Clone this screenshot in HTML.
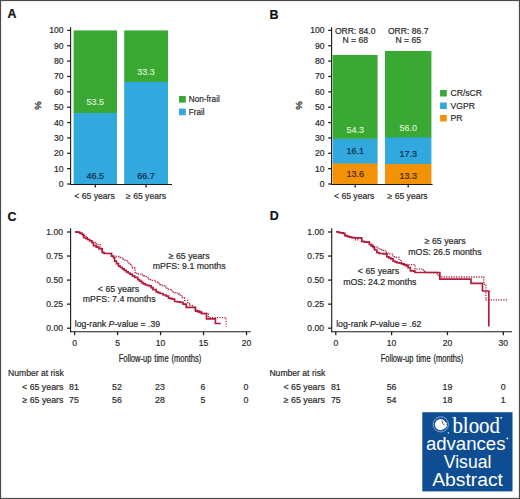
<!DOCTYPE html>
<html><head><meta charset="utf-8"><style>
html,body{margin:0;padding:0;background:#fff;width:520px;height:499px;overflow:hidden}
svg{display:block;font-family:"Liberation Sans", sans-serif}
</style></head><body>
<svg width="520" height="499" viewBox="0 0 520 499">
<rect x="0.55" y="0.55" width="518.9" height="497.9" fill="none" stroke="#4a4a4a" stroke-width="1.1"/>
<text x="7.6" y="18.4" font-size="12.4" text-anchor="start" fill="#111" font-weight="bold" stroke="#111" stroke-width="0.2" >A</text>
<text x="269.6" y="18.6" font-size="12.4" text-anchor="start" fill="#111" font-weight="bold" stroke="#111" stroke-width="0.2" >B</text>
<text x="7.6" y="220.8" font-size="12.4" text-anchor="start" fill="#111" font-weight="bold" stroke="#111" stroke-width="0.2" >C</text>
<text x="269.8" y="220.4" font-size="12.4" text-anchor="start" fill="#111" font-weight="bold" stroke="#111" stroke-width="0.2" >D</text>
<line x1="70.6" y1="27.3" x2="70.6" y2="184.5" stroke="#1a1a1a" stroke-width="1.1" />
<line x1="67.19999999999999" y1="184.0" x2="70.6" y2="184.0" stroke="#1a1a1a" stroke-width="1.25" />
<text x="63.599999999999994" y="187.0" font-size="8.6" text-anchor="end" fill="#2b2b2b" font-weight="normal" stroke="#2b2b2b" stroke-width="0.2" >0</text>
<line x1="67.19999999999999" y1="168.64" x2="70.6" y2="168.64" stroke="#1a1a1a" stroke-width="1.25" />
<text x="63.599999999999994" y="171.64" font-size="8.6" text-anchor="end" fill="#2b2b2b" font-weight="normal" stroke="#2b2b2b" stroke-width="0.2" >10</text>
<line x1="67.19999999999999" y1="153.28" x2="70.6" y2="153.28" stroke="#1a1a1a" stroke-width="1.25" />
<text x="63.599999999999994" y="156.28" font-size="8.6" text-anchor="end" fill="#2b2b2b" font-weight="normal" stroke="#2b2b2b" stroke-width="0.2" >20</text>
<line x1="67.19999999999999" y1="137.92000000000002" x2="70.6" y2="137.92000000000002" stroke="#1a1a1a" stroke-width="1.25" />
<text x="63.599999999999994" y="140.92000000000002" font-size="8.6" text-anchor="end" fill="#2b2b2b" font-weight="normal" stroke="#2b2b2b" stroke-width="0.2" >30</text>
<line x1="67.19999999999999" y1="122.56" x2="70.6" y2="122.56" stroke="#1a1a1a" stroke-width="1.25" />
<text x="63.599999999999994" y="125.56" font-size="8.6" text-anchor="end" fill="#2b2b2b" font-weight="normal" stroke="#2b2b2b" stroke-width="0.2" >40</text>
<line x1="67.19999999999999" y1="107.2" x2="70.6" y2="107.2" stroke="#1a1a1a" stroke-width="1.25" />
<text x="63.599999999999994" y="110.2" font-size="8.6" text-anchor="end" fill="#2b2b2b" font-weight="normal" stroke="#2b2b2b" stroke-width="0.2" >50</text>
<line x1="67.19999999999999" y1="91.84" x2="70.6" y2="91.84" stroke="#1a1a1a" stroke-width="1.25" />
<text x="63.599999999999994" y="94.84" font-size="8.6" text-anchor="end" fill="#2b2b2b" font-weight="normal" stroke="#2b2b2b" stroke-width="0.2" >60</text>
<line x1="67.19999999999999" y1="76.48" x2="70.6" y2="76.48" stroke="#1a1a1a" stroke-width="1.25" />
<text x="63.599999999999994" y="79.48" font-size="8.6" text-anchor="end" fill="#2b2b2b" font-weight="normal" stroke="#2b2b2b" stroke-width="0.2" >70</text>
<line x1="67.19999999999999" y1="61.120000000000005" x2="70.6" y2="61.120000000000005" stroke="#1a1a1a" stroke-width="1.25" />
<text x="63.599999999999994" y="64.12" font-size="8.6" text-anchor="end" fill="#2b2b2b" font-weight="normal" stroke="#2b2b2b" stroke-width="0.2" >80</text>
<line x1="67.19999999999999" y1="45.75999999999999" x2="70.6" y2="45.75999999999999" stroke="#1a1a1a" stroke-width="1.25" />
<text x="63.599999999999994" y="48.75999999999999" font-size="8.6" text-anchor="end" fill="#2b2b2b" font-weight="normal" stroke="#2b2b2b" stroke-width="0.2" >90</text>
<line x1="67.19999999999999" y1="30.400000000000006" x2="70.6" y2="30.400000000000006" stroke="#1a1a1a" stroke-width="1.25" />
<text x="63.599999999999994" y="33.400000000000006" font-size="8.6" text-anchor="end" fill="#2b2b2b" font-weight="normal" stroke="#2b2b2b" stroke-width="0.2" >100</text>
<line x1="70.1" y1="184.5" x2="172.0" y2="184.5" stroke="#1a1a1a" stroke-width="1.1" />
<line x1="95.3" y1="184.0" x2="95.3" y2="187.4" stroke="#1a1a1a" stroke-width="1.25" />
<line x1="146.1" y1="184.0" x2="146.1" y2="187.4" stroke="#1a1a1a" stroke-width="1.25" />
<text x="38.5" y="105.5" font-size="9.6" text-anchor="middle" fill="#2b2b2b" font-weight="normal" stroke="#2b2b2b" stroke-width="0.3" transform="rotate(-90 38.5 105.5)" dominant-baseline="middle">%</text>
<rect x="73.6" y="112.57600000000001" width="43.400000000000006" height="71.42399999999999" fill="#31a8de"/>
<rect x="73.6" y="30.4" width="43.400000000000006" height="82.57600000000002" fill="#39a934"/>
<rect x="124.2" y="81.54879999999999" width="43.8" height="102.45120000000001" fill="#31a8de"/>
<rect x="124.2" y="30.4" width="43.8" height="51.548799999999986" fill="#39a934"/>
<text x="95.3" y="105.0" font-size="9.0" text-anchor="middle" fill="#dcf3d4" font-weight="normal" stroke="#dcf3d4" stroke-width="0.15" >53.5</text>
<text x="146.1" y="75.2" font-size="9.0" text-anchor="middle" fill="#dcf3d4" font-weight="normal" stroke="#dcf3d4" stroke-width="0.15" >33.3</text>
<text x="95.3" y="178.7" font-size="9.0" text-anchor="middle" fill="#0f2e4e" font-weight="normal" stroke="#0f2e4e" stroke-width="0.2" >46.5</text>
<text x="146.1" y="178.7" font-size="9.0" text-anchor="middle" fill="#0f2e4e" font-weight="normal" stroke="#0f2e4e" stroke-width="0.2" >66.7</text>
<text x="94.5" y="199.2" font-size="8.6" text-anchor="middle" fill="#2b2b2b" font-weight="normal" stroke="#2b2b2b" stroke-width="0.2" >&lt; 65 years</text>
<text x="146.1" y="199.2" font-size="8.6" text-anchor="middle" fill="#2b2b2b" font-weight="normal" stroke="#2b2b2b" stroke-width="0.2" >&#8805; 65 years</text>
<rect x="179" y="96" width="6.8" height="6.6" fill="#39a934"/>
<rect x="179" y="108.6" width="6.8" height="6.6" fill="#31a8de"/>
<text x="188.8" y="102.3" font-size="8.6" text-anchor="start" fill="#2b2b2b" font-weight="normal" stroke="#2b2b2b" stroke-width="0.2" textLength="31.0" lengthAdjust="spacingAndGlyphs">Non-frail</text>
<text x="188.8" y="114.9" font-size="8.6" text-anchor="start" fill="#2b2b2b" font-weight="normal" stroke="#2b2b2b" stroke-width="0.2" textLength="15.7" lengthAdjust="spacingAndGlyphs">Frail</text>
<line x1="331.6" y1="27.3" x2="331.6" y2="184.5" stroke="#1a1a1a" stroke-width="1.1" />
<line x1="328.20000000000005" y1="184.0" x2="331.6" y2="184.0" stroke="#1a1a1a" stroke-width="1.25" />
<text x="324.6" y="187.0" font-size="8.6" text-anchor="end" fill="#2b2b2b" font-weight="normal" stroke="#2b2b2b" stroke-width="0.2" >0</text>
<line x1="328.20000000000005" y1="168.64" x2="331.6" y2="168.64" stroke="#1a1a1a" stroke-width="1.25" />
<text x="324.6" y="171.64" font-size="8.6" text-anchor="end" fill="#2b2b2b" font-weight="normal" stroke="#2b2b2b" stroke-width="0.2" >10</text>
<line x1="328.20000000000005" y1="153.28" x2="331.6" y2="153.28" stroke="#1a1a1a" stroke-width="1.25" />
<text x="324.6" y="156.28" font-size="8.6" text-anchor="end" fill="#2b2b2b" font-weight="normal" stroke="#2b2b2b" stroke-width="0.2" >20</text>
<line x1="328.20000000000005" y1="137.92000000000002" x2="331.6" y2="137.92000000000002" stroke="#1a1a1a" stroke-width="1.25" />
<text x="324.6" y="140.92000000000002" font-size="8.6" text-anchor="end" fill="#2b2b2b" font-weight="normal" stroke="#2b2b2b" stroke-width="0.2" >30</text>
<line x1="328.20000000000005" y1="122.56" x2="331.6" y2="122.56" stroke="#1a1a1a" stroke-width="1.25" />
<text x="324.6" y="125.56" font-size="8.6" text-anchor="end" fill="#2b2b2b" font-weight="normal" stroke="#2b2b2b" stroke-width="0.2" >40</text>
<line x1="328.20000000000005" y1="107.2" x2="331.6" y2="107.2" stroke="#1a1a1a" stroke-width="1.25" />
<text x="324.6" y="110.2" font-size="8.6" text-anchor="end" fill="#2b2b2b" font-weight="normal" stroke="#2b2b2b" stroke-width="0.2" >50</text>
<line x1="328.20000000000005" y1="91.84" x2="331.6" y2="91.84" stroke="#1a1a1a" stroke-width="1.25" />
<text x="324.6" y="94.84" font-size="8.6" text-anchor="end" fill="#2b2b2b" font-weight="normal" stroke="#2b2b2b" stroke-width="0.2" >60</text>
<line x1="328.20000000000005" y1="76.48" x2="331.6" y2="76.48" stroke="#1a1a1a" stroke-width="1.25" />
<text x="324.6" y="79.48" font-size="8.6" text-anchor="end" fill="#2b2b2b" font-weight="normal" stroke="#2b2b2b" stroke-width="0.2" >70</text>
<line x1="328.20000000000005" y1="61.120000000000005" x2="331.6" y2="61.120000000000005" stroke="#1a1a1a" stroke-width="1.25" />
<text x="324.6" y="64.12" font-size="8.6" text-anchor="end" fill="#2b2b2b" font-weight="normal" stroke="#2b2b2b" stroke-width="0.2" >80</text>
<line x1="328.20000000000005" y1="45.75999999999999" x2="331.6" y2="45.75999999999999" stroke="#1a1a1a" stroke-width="1.25" />
<text x="324.6" y="48.75999999999999" font-size="8.6" text-anchor="end" fill="#2b2b2b" font-weight="normal" stroke="#2b2b2b" stroke-width="0.2" >90</text>
<line x1="328.20000000000005" y1="30.400000000000006" x2="331.6" y2="30.400000000000006" stroke="#1a1a1a" stroke-width="1.25" />
<text x="324.6" y="33.400000000000006" font-size="8.6" text-anchor="end" fill="#2b2b2b" font-weight="normal" stroke="#2b2b2b" stroke-width="0.2" >100</text>
<line x1="331.1" y1="184.5" x2="432.6" y2="184.5" stroke="#1a1a1a" stroke-width="1.1" />
<line x1="355.2" y1="184.0" x2="355.2" y2="187.4" stroke="#1a1a1a" stroke-width="1.25" />
<line x1="408.2" y1="184.0" x2="408.2" y2="187.4" stroke="#1a1a1a" stroke-width="1.25" />
<text x="299.4" y="105.4" font-size="9.6" text-anchor="middle" fill="#2b2b2b" font-weight="normal" stroke="#2b2b2b" stroke-width="0.3" transform="rotate(-90 299.4 105.4)" dominant-baseline="middle">%</text>
<rect x="332.6" y="163.1104" width="45.0" height="20.8896" fill="#f39206"/>
<rect x="332.6" y="138.3808" width="45.0" height="25.129600000000003" fill="#31a8de"/>
<rect x="332.6" y="54.976" width="45.0" height="83.8048" fill="#39a934"/>
<rect x="385.0" y="163.5712" width="46.39999999999998" height="20.428799999999995" fill="#f39206"/>
<rect x="385.0" y="136.9984" width="46.39999999999998" height="26.9728" fill="#31a8de"/>
<rect x="385.0" y="50.98240000000001" width="46.39999999999998" height="86.416" fill="#39a934"/>
<text x="355.2" y="132.6" font-size="9.0" text-anchor="middle" fill="#dcf3d4" font-weight="normal" stroke="#dcf3d4" stroke-width="0.15" >54.3</text>
<text x="408.2" y="130.7" font-size="9.0" text-anchor="middle" fill="#dcf3d4" font-weight="normal" stroke="#dcf3d4" stroke-width="0.15" >56.0</text>
<text x="355.2" y="153.7" font-size="9.0" text-anchor="middle" fill="#0f2e4e" font-weight="normal" stroke="#0f2e4e" stroke-width="0.2" >16.1</text>
<text x="408.2" y="157.2" font-size="9.0" text-anchor="middle" fill="#0f2e4e" font-weight="normal" stroke="#0f2e4e" stroke-width="0.2" >17.3</text>
<text x="355.2" y="176.6" font-size="9.0" text-anchor="middle" fill="#45260c" font-weight="normal" stroke="#45260c" stroke-width="0.2" >13.6</text>
<text x="408.2" y="178.9" font-size="9.0" text-anchor="middle" fill="#45260c" font-weight="normal" stroke="#45260c" stroke-width="0.2" >13.3</text>
<text x="355.2" y="33.5" font-size="8.6" text-anchor="middle" fill="#2b2b2b" font-weight="normal" stroke="#2b2b2b" stroke-width="0.2" >ORR: 84.0</text>
<text x="355.2" y="43.4" font-size="8.6" text-anchor="middle" fill="#2b2b2b" font-weight="normal" stroke="#2b2b2b" stroke-width="0.2" >N = 68</text>
<text x="408.2" y="33.5" font-size="8.6" text-anchor="middle" fill="#2b2b2b" font-weight="normal" stroke="#2b2b2b" stroke-width="0.2" >ORR: 86.7</text>
<text x="408.2" y="43.4" font-size="8.6" text-anchor="middle" fill="#2b2b2b" font-weight="normal" stroke="#2b2b2b" stroke-width="0.2" >N = 65</text>
<text x="354.2" y="199.2" font-size="8.6" text-anchor="middle" fill="#2b2b2b" font-weight="normal" stroke="#2b2b2b" stroke-width="0.2" >&lt; 65 years</text>
<text x="407.6" y="199.2" font-size="8.6" text-anchor="middle" fill="#2b2b2b" font-weight="normal" stroke="#2b2b2b" stroke-width="0.2" >&#8805; 65 years</text>
<rect x="440.1" y="90.0" width="6.7" height="6.5" fill="#39a934"/>
<rect x="440.1" y="102.5" width="6.7" height="6.5" fill="#31a8de"/>
<rect x="440.1" y="115.0" width="6.7" height="6.5" fill="#f39206"/>
<text x="450.5" y="96.0" font-size="8.6" text-anchor="start" fill="#2b2b2b" font-weight="normal" stroke="#2b2b2b" stroke-width="0.2" >CR/sCR</text>
<text x="450.5" y="108.6" font-size="8.6" text-anchor="start" fill="#2b2b2b" font-weight="normal" stroke="#2b2b2b" stroke-width="0.2" >VGPR</text>
<text x="450.5" y="121.2" font-size="8.6" text-anchor="start" fill="#2b2b2b" font-weight="normal" stroke="#2b2b2b" stroke-width="0.2" >PR</text>
<line x1="70.6" y1="228.2" x2="70.6" y2="332.3" stroke="#1a1a1a" stroke-width="1.1" />
<line x1="67.0" y1="328.2" x2="70.6" y2="328.2" stroke="#1a1a1a" stroke-width="1.25" />
<text x="62.99999999999999" y="331.2" font-size="8.6" text-anchor="end" fill="#2b2b2b" font-weight="normal" stroke="#2b2b2b" stroke-width="0.2" >0.00</text>
<line x1="67.0" y1="304.15" x2="70.6" y2="304.15" stroke="#1a1a1a" stroke-width="1.25" />
<text x="62.99999999999999" y="307.15" font-size="8.6" text-anchor="end" fill="#2b2b2b" font-weight="normal" stroke="#2b2b2b" stroke-width="0.2" >0.25</text>
<line x1="67.0" y1="280.1" x2="70.6" y2="280.1" stroke="#1a1a1a" stroke-width="1.25" />
<text x="62.99999999999999" y="283.1" font-size="8.6" text-anchor="end" fill="#2b2b2b" font-weight="normal" stroke="#2b2b2b" stroke-width="0.2" >0.50</text>
<line x1="67.0" y1="256.05" x2="70.6" y2="256.05" stroke="#1a1a1a" stroke-width="1.25" />
<text x="62.99999999999999" y="259.05" font-size="8.6" text-anchor="end" fill="#2b2b2b" font-weight="normal" stroke="#2b2b2b" stroke-width="0.2" >0.75</text>
<line x1="67.0" y1="232.0" x2="70.6" y2="232.0" stroke="#1a1a1a" stroke-width="1.25" />
<text x="62.99999999999999" y="235.0" font-size="8.6" text-anchor="end" fill="#2b2b2b" font-weight="normal" stroke="#2b2b2b" stroke-width="0.2" >1.00</text>
<line x1="70.1" y1="331.8" x2="250.6" y2="331.8" stroke="#1a1a1a" stroke-width="1.1" />
<line x1="74.6" y1="331.8" x2="74.6" y2="335.2" stroke="#1a1a1a" stroke-width="1.25" />
<text x="74.6" y="346.4" font-size="8.6" text-anchor="middle" fill="#2b2b2b" font-weight="normal" stroke="#2b2b2b" stroke-width="0.2" >0</text>
<line x1="117.57999999999998" y1="331.8" x2="117.57999999999998" y2="335.2" stroke="#1a1a1a" stroke-width="1.25" />
<text x="117.57999999999998" y="346.4" font-size="8.6" text-anchor="middle" fill="#2b2b2b" font-weight="normal" stroke="#2b2b2b" stroke-width="0.2" >5</text>
<line x1="160.56" y1="331.8" x2="160.56" y2="335.2" stroke="#1a1a1a" stroke-width="1.25" />
<text x="160.56" y="346.4" font-size="8.6" text-anchor="middle" fill="#2b2b2b" font-weight="normal" stroke="#2b2b2b" stroke-width="0.2" >10</text>
<line x1="203.54" y1="331.8" x2="203.54" y2="335.2" stroke="#1a1a1a" stroke-width="1.25" />
<text x="203.54" y="346.4" font-size="8.6" text-anchor="middle" fill="#2b2b2b" font-weight="normal" stroke="#2b2b2b" stroke-width="0.2" >15</text>
<line x1="246.51999999999998" y1="331.8" x2="246.51999999999998" y2="335.2" stroke="#1a1a1a" stroke-width="1.25" />
<text x="246.51999999999998" y="346.4" font-size="8.6" text-anchor="middle" fill="#2b2b2b" font-weight="normal" stroke="#2b2b2b" stroke-width="0.2" >20</text>
<text x="160.0" y="361.6" font-size="10.4" text-anchor="middle" fill="#222" font-weight="normal" stroke="#222" stroke-width="0.22" style="word-spacing:1.2px" transform="translate(160.0 0) scale(0.725 1) translate(-160.0 0)">Follow-up time (months)</text>
<polyline points="75.1,231.8 77.0,231.8 77.0,232.2 78.9,232.2 78.9,232.5 80.1,232.5 80.1,233.3 82.0,233.3 82.0,234.5 83.5,234.5 83.5,237.5 85.5,237.5 85.5,238.5 87.4,238.5 87.4,239.5 89.7,239.5 89.7,241.0 92.0,241.0 92.0,242.5 93.5,242.5 93.5,245.6 96.2,245.6 96.2,247.1 98.9,247.1 98.9,248.7 100.5,248.8 102.3,248.8 102.3,252.7 104.3,252.7 104.3,253.4 110.0,253.5 111.5,253.5 111.5,256.2 113.5,256.2 113.5,257.7 114.6,257.7 114.6,261.2 116.5,261.2 116.5,263.7 118.5,263.7 118.5,266.2 120.4,266.2 120.4,267.5 122.3,267.5 122.3,268.8 124.2,268.8 124.2,270.4 126.2,270.4 126.2,271.9 128.1,271.9 128.1,273.0 130.0,273.0 130.0,274.2 132.3,274.2 132.3,275.8 134.6,275.8 134.6,277.3 137.7,277.3 137.7,279.6 139.6,279.6 139.6,281.1 141.5,281.1 141.5,282.7 143.4,282.7 143.4,283.9 145.4,283.9 145.4,285.0 147.3,285.0 147.3,285.4 149.2,285.4 149.2,285.8 151.1,285.8 151.1,287.7 153.0,287.7 153.0,289.6 156.2,289.6 156.2,291.9 158.1,291.9 158.1,292.7 160.0,292.7 160.0,293.5 163.1,293.5 163.1,295.0 166.2,295.0 166.2,296.2 168.5,296.2 168.5,298.1 170.4,298.1 170.4,298.6 172.3,298.6 172.3,299.2 174.6,299.2 174.6,301.5 177.3,301.5 177.3,301.9 180.0,301.9 180.0,302.3 183.0,302.3 183.0,304.2 186.2,304.2 186.2,307.3 193.1,307.3 195.4,307.3 195.4,310.4 195.8,310.4 195.8,311.2 197.9,311.2 197.9,311.8 200.0,311.8 200.0,312.3 201.5,312.3 201.5,313.5 206.5,313.5 206.5,318.8 215.4,318.8 215.4,323.5 220.8,323.5" fill="none" stroke="#b51b3c" stroke-width="1.7" stroke-linejoin="miter"/>
<polyline points="75.1,231.8 77.0,231.8 77.0,232.2 78.9,232.2 78.9,232.5 80.1,232.5 80.1,233.3 82.0,233.3 82.0,234.5 83.8,234.5 83.8,235.4 85.5,235.4 85.5,236.4 87.4,236.4 87.4,239.5 89.7,239.5 89.7,241.0 92.0,241.0 92.0,242.5 94.3,242.5 96.2,242.5 96.2,243.7 98.2,243.7 98.2,244.8 100.5,244.8 100.5,248.3 102.0,248.3 102.0,252.2 104.3,252.2 104.3,253.3 110.0,253.5 111.5,253.5 111.5,256.2 113.5,256.2 113.5,256.5 117.7,256.5 120.3,256.5 120.3,257.9 123.0,257.9 123.0,259.2 125.1,259.2 125.1,260.6 127.1,260.6 127.1,262.1 129.2,262.1 129.2,263.5 130.8,263.5 130.8,265.8 132.5,265.8 132.5,268.0 135.0,268.0 135.0,272.5 136.8,272.5 136.8,273.4 138.5,273.4 138.5,274.2 141.2,274.2 141.2,275.0 143.8,275.0 143.8,275.8 146.2,275.8 146.2,277.3 148.5,277.3 148.5,278.8 150.4,278.8 150.4,279.6 152.3,279.6 152.3,280.4 155.0,280.4 155.0,281.9 157.7,281.9 157.7,283.5 160.0,283.5 160.0,284.6 162.3,284.6 162.3,285.8 164.6,285.8 164.6,286.9 166.6,286.9 166.6,288.2 168.5,288.2 168.5,289.6 170.8,289.6 170.8,290.8 173.1,290.8 173.1,291.9 175.1,291.9 175.1,292.9 177.2,292.9 177.2,294.0 179.2,294.0 179.2,295.0 181.9,295.0 181.9,297.7 184.6,297.7 184.6,300.4 187.7,300.4 187.7,303.5 190.0,303.5 190.0,305.4 193.1,305.4 193.1,307.3 195.4,307.3 195.4,310.4 197.7,310.4 197.7,310.9 200.0,310.9 200.0,311.5 201.5,311.5 201.5,313.5 206.5,313.5 208.5,313.5 208.5,317.7 226.2,317.7 226.2,326.5" fill="none" stroke="#a81a3a" stroke-width="1.3" stroke-dasharray="1.2 1.3"/>
<text x="189.2" y="259.0" font-size="8.8" text-anchor="middle" fill="#2b2b2b" font-weight="normal" stroke="#2b2b2b" stroke-width="0.2" >&#8805; 65 years</text>
<text x="189.2" y="268.8" font-size="8.8" text-anchor="middle" fill="#2b2b2b" font-weight="normal" stroke="#2b2b2b" stroke-width="0.2" >mPFS: 9.1 months</text>
<text x="118.5" y="291.6" font-size="8.8" text-anchor="middle" fill="#2b2b2b" font-weight="normal" stroke="#2b2b2b" stroke-width="0.2" >&lt; 65 years</text>
<text x="119.2" y="302.3" font-size="8.8" text-anchor="middle" fill="#2b2b2b" font-weight="normal" stroke="#2b2b2b" stroke-width="0.2" >mPFS: 7.4 months</text>
<text x="74.8" y="326.5" font-size="8.7" text-anchor="start" fill="#2b2b2b" font-weight="normal" stroke="#2b2b2b" stroke-width="0.2" >log-rank <tspan font-style="italic">P</tspan>-value = .39</text>
<line x1="331.7" y1="228.2" x2="331.7" y2="332.3" stroke="#1a1a1a" stroke-width="1.1" />
<line x1="328.09999999999997" y1="328.2" x2="331.7" y2="328.2" stroke="#1a1a1a" stroke-width="1.25" />
<text x="324.09999999999997" y="331.2" font-size="8.6" text-anchor="end" fill="#2b2b2b" font-weight="normal" stroke="#2b2b2b" stroke-width="0.2" >0.00</text>
<line x1="328.09999999999997" y1="304.15" x2="331.7" y2="304.15" stroke="#1a1a1a" stroke-width="1.25" />
<text x="324.09999999999997" y="307.15" font-size="8.6" text-anchor="end" fill="#2b2b2b" font-weight="normal" stroke="#2b2b2b" stroke-width="0.2" >0.25</text>
<line x1="328.09999999999997" y1="280.1" x2="331.7" y2="280.1" stroke="#1a1a1a" stroke-width="1.25" />
<text x="324.09999999999997" y="283.1" font-size="8.6" text-anchor="end" fill="#2b2b2b" font-weight="normal" stroke="#2b2b2b" stroke-width="0.2" >0.50</text>
<line x1="328.09999999999997" y1="256.05" x2="331.7" y2="256.05" stroke="#1a1a1a" stroke-width="1.25" />
<text x="324.09999999999997" y="259.05" font-size="8.6" text-anchor="end" fill="#2b2b2b" font-weight="normal" stroke="#2b2b2b" stroke-width="0.2" >0.75</text>
<line x1="328.09999999999997" y1="232.0" x2="331.7" y2="232.0" stroke="#1a1a1a" stroke-width="1.25" />
<text x="324.09999999999997" y="235.0" font-size="8.6" text-anchor="end" fill="#2b2b2b" font-weight="normal" stroke="#2b2b2b" stroke-width="0.2" >1.00</text>
<line x1="331.2" y1="331.8" x2="512.0" y2="331.8" stroke="#1a1a1a" stroke-width="1.1" />
<line x1="335.8" y1="331.8" x2="335.8" y2="335.2" stroke="#1a1a1a" stroke-width="1.25" />
<text x="335.8" y="346.4" font-size="8.6" text-anchor="middle" fill="#2b2b2b" font-weight="normal" stroke="#2b2b2b" stroke-width="0.2" >0</text>
<line x1="391.63" y1="331.8" x2="391.63" y2="335.2" stroke="#1a1a1a" stroke-width="1.25" />
<text x="391.63" y="346.4" font-size="8.6" text-anchor="middle" fill="#2b2b2b" font-weight="normal" stroke="#2b2b2b" stroke-width="0.2" >10</text>
<line x1="447.46000000000004" y1="331.8" x2="447.46000000000004" y2="335.2" stroke="#1a1a1a" stroke-width="1.25" />
<text x="447.46000000000004" y="346.4" font-size="8.6" text-anchor="middle" fill="#2b2b2b" font-weight="normal" stroke="#2b2b2b" stroke-width="0.2" >20</text>
<line x1="503.29" y1="331.8" x2="503.29" y2="335.2" stroke="#1a1a1a" stroke-width="1.25" />
<text x="503.29" y="346.4" font-size="8.6" text-anchor="middle" fill="#2b2b2b" font-weight="normal" stroke="#2b2b2b" stroke-width="0.2" >30</text>
<text x="422.0" y="361.6" font-size="10.4" text-anchor="middle" fill="#222" font-weight="normal" stroke="#222" stroke-width="0.22" style="word-spacing:1.2px" transform="translate(422.0 0) scale(0.725 1) translate(-422.0 0)">Follow-up time (months)</text>
<polyline points="336.3,231.8 338.6,231.8 338.6,232.5 340.9,232.5 340.9,232.9 343.2,232.9 343.2,233.3 344.8,233.3 344.8,235.6 347.1,235.6 347.1,236.4 349.4,236.4 349.4,237.2 351.7,237.2 351.7,237.6 354.0,237.6 354.0,237.9 359.4,237.9 361.7,237.9 361.7,241.4 364.0,241.4 364.0,241.8 366.3,241.8 366.3,242.2 369.4,242.2 369.4,244.5 371.2,244.5 371.2,246.1 373.1,246.1 373.1,247.7 374.6,247.7 374.6,250.0 376.9,250.0 376.9,252.7 379.2,252.7 379.2,253.5 381.5,253.5 381.5,253.7 383.8,253.7 383.8,253.8 386.9,253.8 386.9,256.9 388.9,256.9 388.9,257.9 390.8,257.9 390.8,258.8 393.1,258.8 393.1,261.2 395.0,261.2 395.0,261.9 396.9,261.9 396.9,262.7 399.2,262.7 399.2,263.2 401.5,263.2 401.5,263.8 403.9,263.8 403.9,264.8 406.2,264.8 406.2,265.8 408.1,265.8 408.1,267.7 410.4,267.7 410.4,270.8 413.5,270.8 413.5,271.2 415.0,271.2 415.0,272.5 439.8,272.5 439.8,279.2 471.0,279.2 471.0,283.4 482.5,283.4 482.5,291.0 488.8,291.0 488.8,326.5" fill="none" stroke="#b51b3c" stroke-width="1.7" stroke-linejoin="miter"/>
<line x1="355.4" y1="237.5" x2="355.4" y2="240.6" stroke="#b51b3c" stroke-width="0.9" />
<line x1="357.8" y1="237.5" x2="357.8" y2="240.6" stroke="#b51b3c" stroke-width="0.9" />
<polyline points="336.3,231.8 338.6,231.8 338.6,232.5 340.9,232.5 340.9,232.9 343.2,232.9 343.2,233.3 344.8,233.3 344.8,235.6 347.1,235.6 347.1,236.4 349.4,236.4 349.4,237.2 351.7,237.2 351.7,237.6 354.0,237.6 354.0,237.9 359.4,237.9 361.7,237.9 361.7,241.4 364.0,241.4 364.0,241.8 366.3,241.8 366.3,242.2 369.4,242.2 369.4,244.3 372.3,244.3 372.3,245.4 374.6,245.4 374.6,246.8 376.9,246.8 376.9,248.1 379.2,248.1 379.2,248.8 381.5,248.8 381.5,249.6 383.4,249.6 383.4,250.9 385.4,250.9 385.4,252.3 387.3,252.3 387.3,253.1 389.2,253.1 389.2,253.8 392.3,253.8 392.3,255.8 394.2,255.8 394.2,256.6 396.2,256.6 396.2,257.3 399.2,257.3 399.2,260.4 401.5,260.4 401.5,263.8 403.4,263.8 403.4,264.1 405.4,264.1 405.4,264.3 407.3,264.3 407.3,264.6 411.9,264.6 415.0,264.6 415.0,269.2 422.7,269.2 423.5,269.2 423.5,271.5 425.0,271.5 425.0,272.5 435.0,272.5 437.3,272.5 437.3,275.4 439.6,275.4 439.6,276.2 441.9,276.2 441.9,277.0 483.8,277.0 483.8,284.2 485.9,284.2 485.9,288.3 485.9,299.8 508.0,299.8" fill="none" stroke="#a81a3a" stroke-width="1.3" stroke-dasharray="1.2 1.3"/>
<text x="445.2" y="244.4" font-size="8.8" text-anchor="middle" fill="#2b2b2b" font-weight="normal" stroke="#2b2b2b" stroke-width="0.2" >&#8805; 65 years</text>
<text x="444.9" y="255.0" font-size="8.8" text-anchor="middle" fill="#2b2b2b" font-weight="normal" stroke="#2b2b2b" stroke-width="0.2" >mOS: 26.5 months</text>
<text x="378.5" y="273.8" font-size="8.8" text-anchor="middle" fill="#2b2b2b" font-weight="normal" stroke="#2b2b2b" stroke-width="0.2" >&lt; 65 years</text>
<text x="379.8" y="284.6" font-size="8.8" text-anchor="middle" fill="#2b2b2b" font-weight="normal" stroke="#2b2b2b" stroke-width="0.2" >mOS: 24.2 months</text>
<text x="336.2" y="326.5" font-size="8.7" text-anchor="start" fill="#2b2b2b" font-weight="normal" stroke="#2b2b2b" stroke-width="0.2" >log-rank <tspan font-style="italic">P</tspan>-value = .62</text>
<text x="8.0" y="375.5" font-size="8.6" text-anchor="start" fill="#2b2b2b" font-weight="normal" stroke="#2b2b2b" stroke-width="0.2" >Number at risk</text>
<text x="63.4" y="390.2" font-size="8.8" text-anchor="end" fill="#2b2b2b" font-weight="normal" stroke="#2b2b2b" stroke-width="0.2" >&lt; 65 years</text>
<text x="63.4" y="403.2" font-size="8.8" text-anchor="end" fill="#2b2b2b" font-weight="normal" stroke="#2b2b2b" stroke-width="0.2" >&#8805; 65 years</text>
<text x="74.0" y="390.2" font-size="8.8" text-anchor="middle" fill="#2b2b2b" font-weight="normal" stroke="#2b2b2b" stroke-width="0.2" >81</text>
<text x="74.0" y="403.2" font-size="8.8" text-anchor="middle" fill="#2b2b2b" font-weight="normal" stroke="#2b2b2b" stroke-width="0.2" >75</text>
<text x="116.97999999999999" y="390.2" font-size="8.8" text-anchor="middle" fill="#2b2b2b" font-weight="normal" stroke="#2b2b2b" stroke-width="0.2" >52</text>
<text x="116.97999999999999" y="403.2" font-size="8.8" text-anchor="middle" fill="#2b2b2b" font-weight="normal" stroke="#2b2b2b" stroke-width="0.2" >56</text>
<text x="159.95999999999998" y="390.2" font-size="8.8" text-anchor="middle" fill="#2b2b2b" font-weight="normal" stroke="#2b2b2b" stroke-width="0.2" >23</text>
<text x="159.95999999999998" y="403.2" font-size="8.8" text-anchor="middle" fill="#2b2b2b" font-weight="normal" stroke="#2b2b2b" stroke-width="0.2" >28</text>
<text x="202.94" y="390.2" font-size="8.8" text-anchor="middle" fill="#2b2b2b" font-weight="normal" stroke="#2b2b2b" stroke-width="0.2" >6</text>
<text x="202.94" y="403.2" font-size="8.8" text-anchor="middle" fill="#2b2b2b" font-weight="normal" stroke="#2b2b2b" stroke-width="0.2" >5</text>
<text x="245.92" y="390.2" font-size="8.8" text-anchor="middle" fill="#2b2b2b" font-weight="normal" stroke="#2b2b2b" stroke-width="0.2" >0</text>
<text x="245.92" y="403.2" font-size="8.8" text-anchor="middle" fill="#2b2b2b" font-weight="normal" stroke="#2b2b2b" stroke-width="0.2" >0</text>
<text x="269.4" y="375.5" font-size="8.6" text-anchor="start" fill="#2b2b2b" font-weight="normal" stroke="#2b2b2b" stroke-width="0.2" >Number at risk</text>
<text x="324.8" y="390.2" font-size="8.8" text-anchor="end" fill="#2b2b2b" font-weight="normal" stroke="#2b2b2b" stroke-width="0.2" >&lt; 65 years</text>
<text x="324.8" y="403.2" font-size="8.8" text-anchor="end" fill="#2b2b2b" font-weight="normal" stroke="#2b2b2b" stroke-width="0.2" >&#8805; 65 years</text>
<text x="335.8" y="390.2" font-size="8.8" text-anchor="middle" fill="#2b2b2b" font-weight="normal" stroke="#2b2b2b" stroke-width="0.2" >81</text>
<text x="335.8" y="403.2" font-size="8.8" text-anchor="middle" fill="#2b2b2b" font-weight="normal" stroke="#2b2b2b" stroke-width="0.2" >75</text>
<text x="391.63" y="390.2" font-size="8.8" text-anchor="middle" fill="#2b2b2b" font-weight="normal" stroke="#2b2b2b" stroke-width="0.2" >56</text>
<text x="391.63" y="403.2" font-size="8.8" text-anchor="middle" fill="#2b2b2b" font-weight="normal" stroke="#2b2b2b" stroke-width="0.2" >54</text>
<text x="447.46000000000004" y="390.2" font-size="8.8" text-anchor="middle" fill="#2b2b2b" font-weight="normal" stroke="#2b2b2b" stroke-width="0.2" >19</text>
<text x="447.46000000000004" y="403.2" font-size="8.8" text-anchor="middle" fill="#2b2b2b" font-weight="normal" stroke="#2b2b2b" stroke-width="0.2" >18</text>
<text x="503.29" y="390.2" font-size="8.8" text-anchor="middle" fill="#2b2b2b" font-weight="normal" stroke="#2b2b2b" stroke-width="0.2" >0</text>
<text x="503.29" y="403.2" font-size="8.8" text-anchor="middle" fill="#2b2b2b" font-weight="normal" stroke="#2b2b2b" stroke-width="0.2" >1</text>
<rect x="422.3" y="412.2" width="90.2" height="79.2" fill="#0f4d92"/>
<circle cx="440.8" cy="424.4" r="7.6" fill="none" stroke="#9fc0e6" stroke-width="0.8"/>
<circle cx="440.5" cy="424.6" r="5.6" fill="#fff"/>
<circle cx="445.6" cy="423.6" r="1.3" fill="#fff"/><circle cx="446.2" cy="425.8" r="1.0" fill="#fff"/><circle cx="445.0" cy="427.6" r="0.9" fill="#fff"/>
<path d="M441.8,420.6 Q442.2,423.6 444.6,425.4" stroke="#333a55" stroke-width="0.9" fill="none"/>
<text x="452.4" y="433.0" font-family="Liberation Serif" font-size="22.5" fill="#fff" stroke="#fff" stroke-width="0.1" textLength="47.6" lengthAdjust="spacingAndGlyphs">blood</text>
<text x="425.9" y="450.1" font-size="17.6" fill="#fff" textLength="79.6" lengthAdjust="spacingAndGlyphs">advances</text>
<text x="467.6" y="468.3" font-size="18" fill="#fff" text-anchor="middle" textLength="47.6" lengthAdjust="spacingAndGlyphs">Visual</text>
<text x="432.2" y="486.3" font-size="18" fill="#fff" textLength="70.8" lengthAdjust="spacingAndGlyphs">Abstract</text>
<circle cx="501.2" cy="417.8" r="0.9" fill="#fff"/>
<circle cx="507.4" cy="438.4" r="0.9" fill="#fff"/>
<circle cx="448.4" cy="432.9" r="0.7" fill="#fff"/>
</svg>
</body></html>
